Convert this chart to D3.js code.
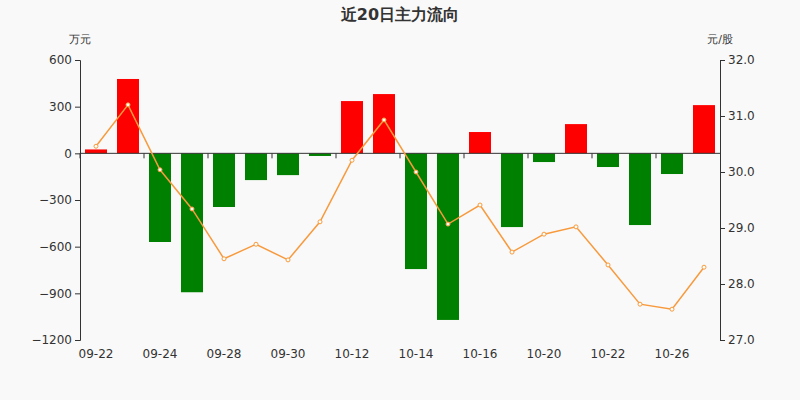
<!DOCTYPE html>
<html><head><meta charset="utf-8">
<script src="https://cdn.jsdelivr.net/npm/d3@7"></script>
<style>body{margin:0;background:#f9f9f9;font-family:"DejaVu Sans",sans-serif;}</style>
</head><body><svg id="c" width="800" height="400"></svg>
<script>
var dates = ["09-22","09-23","09-24","09-25","09-28","09-29","09-30","10-09","10-12","10-13","10-14","10-15","10-16","10-19","10-20","10-21","10-22","10-23","10-26","10-27"];
var flows = [25,478,-570,-893,-345,-172,-140,-17,336,381,-744,-1071,137,-474,-56,188,-88,-461,-133,310];
var prices = [30.46,31.2,30.04,29.34,28.45,28.71,28.43,29.11,30.21,30.93,30.0,29.07,29.41,28.57,28.89,29.02,28.34,27.64,27.55,28.3];
var leftTicks = [600,300,0,-300,-600,-900,-1200];
var rightTicks = [32,31,30,29,28,27];

var svg = d3.select("#c");
svg.append("rect").attr("width",800).attr("height",400).attr("fill","#f9f9f9");
var x = d3.scaleBand().domain(dates).range([80,720]);
var y = d3.scaleLinear().domain([-1200,600]).range([340,60]);
var y2 = d3.scaleLinear().domain([27,32]).range([340,60]);

svg.append("text").attr("x",400).attr("y",20).attr("text-anchor","middle")
  .attr("font-size",16).attr("font-weight","bold").attr("fill","#333").text("近20日主力流向");
svg.append("text").attr("x",80).attr("y",43).attr("text-anchor","middle").attr("font-size",11).attr("fill","#333").text("万元");
svg.append("text").attr("x",720).attr("y",43).attr("text-anchor","middle").attr("font-size",11).attr("fill","#333").text("元/股");

var la = svg.append("g").attr("transform","translate(80,0)")
  .call(d3.axisLeft(y).tickValues(leftTicks).tickSize(5).tickFormat(d3.format("d")));
var ra = svg.append("g").attr("transform","translate(720,0)")
  .call(d3.axisRight(y2).tickValues(rightTicks).tickSize(5));
[la,ra].forEach(function(a){
  a.select(".domain").attr("stroke","#333");
  a.selectAll("line").attr("stroke","#333");
  a.selectAll("text").attr("font-size",12).attr("fill","#333").attr("font-family","DejaVu Sans");
});

svg.selectAll("rect.bar").data(flows).enter().append("rect")
  .attr("x",function(d,i){return x(dates[i])+5;})
  .attr("width",x.bandwidth()-10)
  .attr("y",function(d){return y(Math.max(0,d));})
  .attr("height",function(d){return Math.abs(y(d)-y(0));})
  .attr("fill",function(d){return d>=0?"#ff0000":"#008000";});

// zero axis with ticks
var xa = svg.append("g").attr("transform","translate(0,"+y(0)+")");
xa.append("line").attr("x1",80).attr("x2",720).attr("stroke","#333");
dates.forEach(function(d,i){
  if(i%2==0){
    var bx=x(d);
    xa.append("line").attr("x1",bx).attr("x2",bx).attr("y1",0).attr("y2",5).attr("stroke","#333");
    svg.append("text").attr("x",bx+x.bandwidth()/2).attr("y",358).attr("text-anchor","middle")
      .attr("font-size",12).attr("fill","#333").text(d);
  }
});

var line = d3.line().x(function(d,i){return x(dates[i])+x.bandwidth()/2;}).y(function(d){return y2(d);});
svg.append("path").datum(prices).attr("d",line).attr("fill","none").attr("stroke","#f89a3c").attr("stroke-width",1.5);
svg.selectAll("circle").data(prices).enter().append("circle")
  .attr("cx",function(d,i){return x(dates[i])+x.bandwidth()/2;}).attr("cy",function(d){return y2(d);})
  .attr("r",2).attr("fill","#fff").attr("stroke","#f89a3c");
</script></body></html>
